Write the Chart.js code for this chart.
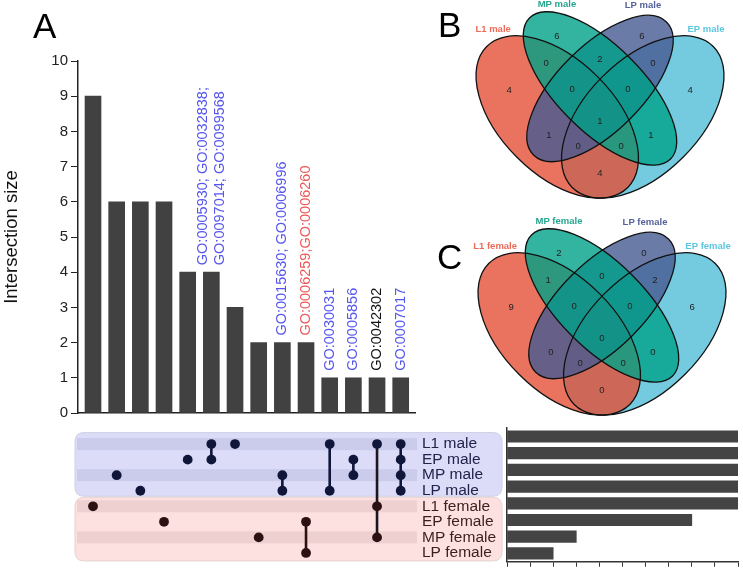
<!DOCTYPE html>
<html><head><meta charset="utf-8">
<script src="https://cdn.jsdelivr.net/npm/chart.js@4"></script>
<style>
html,body{margin:0;padding:0;background:#fff;}
body{width:743px;height:577px;position:relative;overflow:hidden;font-family:"Liberation Sans",Arial,sans-serif;}
canvas{position:absolute;}
.letter{position:absolute;font-size:35px;line-height:35px;color:#000;font-family:"Liberation Sans",Arial,sans-serif;}
</style></head><body>
<canvas id="bars" style="left:0;top:0" width="420" height="425"></canvas>
<canvas id="matrix" style="left:0;top:420px" width="505" height="157"></canvas>
<canvas id="sets" style="left:505px;top:420px" width="238" height="157"></canvas>
<canvas id="vennB" style="left:430px;top:0" width="313" height="210"></canvas>
<canvas id="vennC" style="left:430px;top:210px" width="313" height="210"></canvas>
<div class="letter" style="left:33px;top:8px">A</div>
<div class="letter" style="left:438px;top:7px">B</div>
<div class="letter" style="left:437px;top:239px">C</div>
<script>
// ---------------- data ----------------
const setNames = ['L1 male','EP male','MP male','LP male','L1 female','EP female','MP female','LP female'];
const setSizes = [10,10,10,10,10,8,3,2];
const intersectionSizes = [9,6,6,6,4,4,3,2,2,2,1,1,1,1];
const intersectionMembers = [
  ['L1 female'],['MP male'],['LP male'],['EP female'],['EP male'],
  ['L1 male','EP male'],['L1 male'],['MP female'],['MP male','LP male'],
  ['EP female','LP female'],['L1 male','LP male'],['EP male','MP male'],
  ['L1 male','L1 female','MP female'],['L1 male','EP male','MP male','LP male']
];
const goTermLabels = [[],[],[],[],[],
  ['GO:0005930; GO:0032838;','GO:0097014; GO:0099568'],[],[],
  ['GO:0015630; GO:0006996'],['GO:0006259;GO:0006260'],
  ['GO:0030031'],['GO:0005856'],['GO:0042302'],['GO:0007017']];
const goTermGroup = ['','','','','','blue','','','blue','red','blue','blue','black','blue'];
const yTicks = [0,1,2,3,4,5,6,7,8,9,10];

const vennRegions = ['L1','MP','LP','EP','L1&MP','MP&LP','LP&EP','L1&MP&LP','MP&LP&EP','L1&MP&LP&EP','L1&LP','MP&EP','L1&LP&EP','L1&MP&EP','L1&EP'];
const vennMaleCounts   = [4,6,6,4,0,2,0,0,0,1,1,1,0,0,4];
const vennFemaleCounts = [9,2,0,6,1,0,2,0,0,0,0,0,0,0,0];
const vennMaleNames   = ['L1 male','MP male','LP male','EP male'];
const vennFemaleNames = ['L1 female','MP female','LP female','EP female'];

// ---------------- layout / style ----------------
const FONT = '"Liberation Sans", Arial, sans-serif';
const X_MIN = -0.634, X_MAX = 13.604;
const groupColors = {blue:'#5656ee', red:'#ee5858', black:'#111111'};
const maleDot = '#10163a', femaleDot = '#2b1111';
const isMale = n => n.indexOf('female') < 0;

// Venn geometry (unit square, y up)
const vennRegionPos = [[0.181,0.565],[0.349,0.754],[0.647,0.754],[0.816,0.565],[0.311,0.659],[0.5,0.673],[0.686,0.659],[0.402,0.568],[0.598,0.568],[0.5,0.456],[0.321,0.407],[0.679,0.407],[0.423,0.368],[0.574,0.368],[0.5,0.273]];
const vennNamePos = [[0.125,0.779],[0.349,0.866],[0.651,0.863],[0.872,0.779]];
const vennNameColors = ['#ec6a58','#26a68f','#53629a','#5cc6de'];
const vennEllipses = [
  {x:0.65,y:0.47,a:0.35,b:0.20,rot:45,  fill:'rgba(81,190,215,0.8)'},
  {x:0.35,y:0.47,a:0.35,b:0.20,rot:135, fill:'rgba(228,80,55,0.8)'},
  {x:0.50,y:0.57,a:0.33,b:0.15,rot:45,  fill:'rgba(70,90,146,0.8)'},
  {x:0.50,y:0.57,a:0.35,b:0.15,rot:135, fill:'rgba(0,161,136,0.8)'}
];

const baseOpts = {responsive:false, animation:false, events:[], devicePixelRatio:1};
const noPlug = {legend:{display:false}, tooltip:{enabled:false}};

// ---------------- A: intersection bars ----------------
const goLabelPlugin = {
  id:'goLabels',
  afterDatasetsDraw(chart){
    const ctx = chart.ctx;
    const meta = chart.getDatasetMeta(0);
    meta.data.forEach((bar,i)=>{
      const lines = goTermLabels[i];
      if(!lines.length) return;
      ctx.save();
      ctx.translate(bar.x, bar.y - 7);
      ctx.rotate(-Math.PI/2);
      ctx.font = '14.5px ' + FONT;
      ctx.textAlign = 'left';
      ctx.textBaseline = 'middle';
      ctx.fillStyle = groupColors[goTermGroup[i]];
      const n = lines.length;
      lines.forEach((t,k)=>ctx.fillText(t, 0, (k-(n-1)/2)*17));
      ctx.restore();
    });
  }
};
new Chart(document.getElementById('bars'), {
  type:'bar',
  data:{datasets:[{data:intersectionSizes.map((v,i)=>({x:i,y:v})), backgroundColor:'#414141', borderWidth:0, barThickness:16}]},
  options:Object.assign({}, baseOpts, {
    layout:{padding:{left:0,right:5,top:61,bottom:6}},
    plugins:noPlug,
    scales:{
      x:{type:'linear', offset:false, min:X_MIN, max:X_MAX, grid:{display:false, offset:false}, ticks:{display:false},
         border:{color:'#222',width:1.5}, afterFit:s=>{s.height=0;}},
      y:{type:'linear', min:0, max:10,
         afterBuildTicks:s=>{s.ticks = yTicks.map(v=>({value:v}));},
         ticks:{color:'#222', font:{size:15,family:FONT}, padding:3},
         grid:{drawOnChartArea:false, tickLength:7, color:'#222'},
         border:{color:'#222',width:1.5},
         title:{display:true, text:'Intersection size', color:'#111', font:{size:18.5,family:FONT}, padding:{top:1,bottom:0}},
         afterFit:s=>{s.width=78;}}
    }
  }),
  plugins:[goLabelPlugin]
});

// ---------------- A: matrix ----------------
function roundRect(ctx,x,y,w,h,r){
  ctx.beginPath();
  ctx.moveTo(x+r,y); ctx.lineTo(x+w-r,y); ctx.quadraticCurveTo(x+w,y,x+w,y+r);
  ctx.lineTo(x+w,y+h-r); ctx.quadraticCurveTo(x+w,y+h,x+w-r,y+h);
  ctx.lineTo(x+r,y+h); ctx.quadraticCurveTo(x,y+h,x,y+h-r);
  ctx.lineTo(x,y+r); ctx.quadraticCurveTo(x,y,x+r,y); ctx.closePath();
}
const matrixBg = {
  id:'matrixBg',
  beforeDraw(chart){
    const ctx = chart.ctx, ys = chart.scales.y, ca = chart.chartArea;
    const rows = setNames.map((n,i)=>ys.getPixelForValue(i));
    const x0 = ca.left-3, x1 = ca.right+87;
    ctx.save();
    roundRect(ctx, x0, rows[0]-11.5, x1-x0, rows[3]+5.5-(rows[0]-11.5), 9);
    ctx.fillStyle='#dcdcf8'; ctx.fill(); ctx.lineWidth=1; ctx.strokeStyle='#cfd0e4'; ctx.stroke();
    roundRect(ctx, x0, rows[4]-9, x1-x0, rows[7]+8-(rows[4]-9), 9);
    ctx.fillStyle='#fde0e0'; ctx.fill(); ctx.strokeStyle='#e6d2d2'; ctx.stroke();
    [0,2].forEach(i=>{ctx.fillStyle='#cbcbec'; ctx.fillRect(ca.left-1, rows[i]-6, ca.right-ca.left+3, 12);});
    [4,6].forEach(i=>{ctx.fillStyle='#efd0d0'; ctx.fillRect(ca.left-1, rows[i]-6, ca.right-ca.left+3, 12);});
    ctx.restore();
  }
};
const connectorSets = [];
intersectionMembers.forEach((m,i)=>{
  if(m.length<2) return;
  const idx = m.map(n=>setNames.indexOf(n));
  const lo = setNames[Math.min(...idx)], hi = setNames[Math.max(...idx)];
  const allM = m.every(isMale), allF = m.every(n=>!isMale(n));
  connectorSets.push({type:'line', data:[{x:i,y:lo},{x:i,y:hi}], borderColor: allM?maleDot:(allF?femaleDot:'#1d1520'),
    borderWidth:2.6, pointRadius:0, fill:false, order:2});
});
const dotData = [], dotColors = [];
intersectionMembers.forEach((m,i)=>m.forEach(n=>{dotData.push({x:i,y:n}); dotColors.push(isMale(n)?maleDot:femaleDot);}));
new Chart(document.getElementById('matrix'), {
  type:'scatter',
  data:{datasets:[...connectorSets, {data:dotData, pointRadius:4.9, pointBackgroundColor:dotColors, pointBorderWidth:0, order:1}]},
  options:Object.assign({}, baseOpts, {
    layout:{padding:{left:78,right:0,top:8.15,bottom:15.25}},
    plugins:noPlug,
    scales:{
      x:{type:'linear', min:X_MIN, max:X_MAX, display:false},
      y:{type:'category', labels:setNames, position:'right', offset:true,
         grid:{display:false, drawTicks:false}, border:{display:false},
         ticks:{autoSkip:false, padding:7, font:{size:15.5,family:FONT},
                color:c=>c.index<4?'#20244a':'#3b1f1f'},
         afterFit:s=>{s.width=90;}}
    }
  }),
  plugins:[matrixBg]
});

// ---------------- A: set size bars ----------------
new Chart(document.getElementById('sets'), {
  type:'bar',
  data:{labels:setNames, datasets:[{data:setSizes, backgroundColor:'#444444', borderWidth:0, barThickness:11.5}]},
  options:Object.assign({}, baseOpts, {
    indexAxis:'y',
    layout:{padding:{left:2,right:5,top:8.15,bottom:10.25}},
    plugins:noPlug,
    scales:{
      x:{type:'linear', min:0, max:10, ticks:{stepSize:1, display:false},
         grid:{drawOnChartArea:false, tickLength:5, color:'#333'}, border:{color:'#333',width:1.5},
         afterFit:s=>{s.height=5;}},
      y:{type:'category', offset:true, grid:{display:false}, ticks:{display:false},
         border:{color:'#333',width:1.5}, afterFit:s=>{s.width=0;}}
    }
  })
});

// ---------------- B / C: Venn diagrams ----------------
function vennPlugin(names){
  return {
    id:'venn',
    beforeDatasetsDraw(chart){
      const ctx = chart.ctx, xs = chart.scales.x, ys = chart.scales.y;
      const s = xs.getPixelForValue(1) - xs.getPixelForValue(0);
      ctx.save();
      vennEllipses.forEach(e=>{
        ctx.beginPath();
        ctx.ellipse(xs.getPixelForValue(e.x), ys.getPixelForValue(e.y), e.a*s, e.b*s, -e.rot*Math.PI/180, 0, 2*Math.PI);
        ctx.fillStyle = e.fill; ctx.fill();
      });
      vennEllipses.forEach(e=>{
        ctx.beginPath();
        ctx.ellipse(xs.getPixelForValue(e.x), ys.getPixelForValue(e.y), e.a*s, e.b*s, -e.rot*Math.PI/180, 0, 2*Math.PI);
        ctx.lineWidth = 1.3; ctx.strokeStyle = '#111'; ctx.stroke();
      });
      ctx.restore();
    },
    afterDatasetsDraw(chart){
      const ctx = chart.ctx, xs = chart.scales.x, ys = chart.scales.y;
      const meta = chart.getDatasetMeta(0);
      const data = chart.data.datasets[0].data;
      ctx.save();
      ctx.textAlign='center'; ctx.textBaseline='middle';
      ctx.font = '9.5px ' + FONT; ctx.fillStyle = '#222';
      meta.data.forEach((pt,i)=>ctx.fillText(String(data[i].v), pt.x, pt.y));
      ctx.font = 'bold 9.5px ' + FONT;
      names.forEach((n,i)=>{
        ctx.fillStyle = vennNameColors[i];
        ctx.fillText(n, xs.getPixelForValue(vennNamePos[i][0]), ys.getPixelForValue(vennNamePos[i][1]));
      });
      ctx.restore();
    }
  };
}
function makeVenn(id, counts, names, cx, cy){
  const S = 285, W = 313, H = 210;
  new Chart(document.getElementById(id), {
    type:'scatter',
    data:{datasets:[{data:vennRegionPos.map((p,i)=>({x:p[0], y:p[1], v:counts[i], region:vennRegions[i]})), pointRadius:0}]},
    options:Object.assign({}, baseOpts, {
      layout:{padding:0},
      plugins:noPlug,
      scales:{
        x:{type:'linear', display:false, min:0.5-cx/S, max:0.5+(W-cx)/S},
        y:{type:'linear', display:false, min:0.512-(H-cy)/S, max:0.512+cy/S}
      }
    }),
    plugins:[vennPlugin(names)]
  });
}
makeVenn('vennB', vennMaleCounts, vennMaleNames, 170, 105);
makeVenn('vennC', vennFemaleCounts, vennFemaleNames, 172, 112);
</script>
</body></html>
